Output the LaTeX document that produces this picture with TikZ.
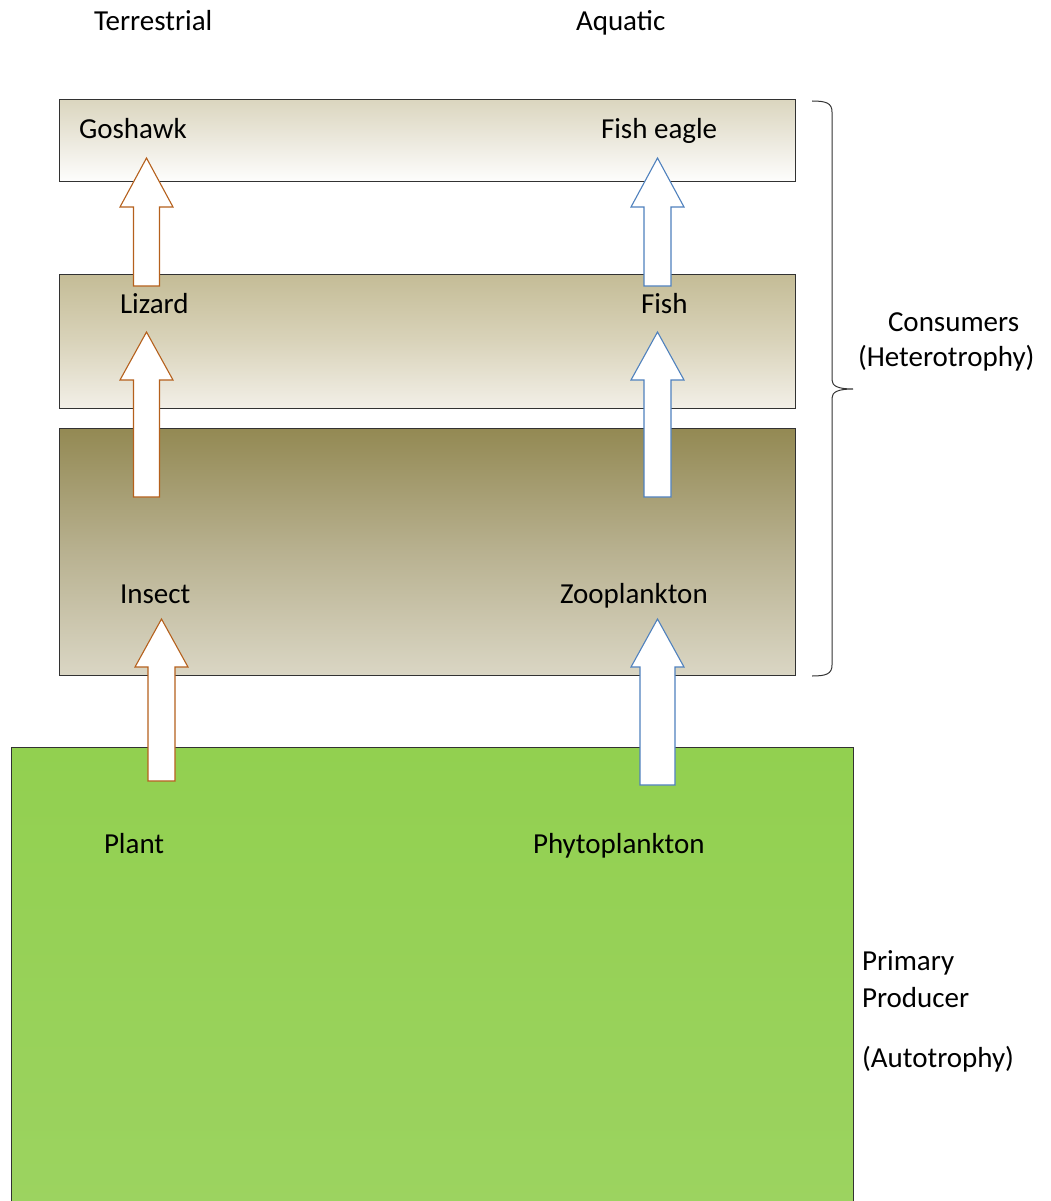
\documentclass[tikz,border=0pt]{standalone}
\usepackage{fontspec}
\setmainfont{Carlito}
\definecolor{terra}{RGB}{181,96,28}
\definecolor{aqua}{RGB}{79,129,189}
\definecolor{boxline}{RGB}{50,50,50}
\definecolor{bA}{HTML}{DBD6BF}
\definecolor{bAm}{HTML}{ECE9DE}
\definecolor{bAb}{HTML}{FEFEFD}
\definecolor{bB}{HTML}{C4BC96}
\definecolor{bBm}{HTML}{D9D3BA}
\definecolor{bBb}{HTML}{F2EFE7}
\definecolor{bC}{HTML}{938953}
\definecolor{bCm}{HTML}{B8B190}
\definecolor{bCb}{HTML}{DAD6C4}
\definecolor{gA}{HTML}{92D050}
\definecolor{gB}{HTML}{9CD360}
\newcommand\blockarrow[7]{%
  \draw[blockarr, draw=#1] (#2,#3) -- ({#2+26.5},#4) -- ({#2+#6},#4) -- ({#2+#6},#5)
     -- ({#2-#6},#5) -- ({#2-#6},#4) -- ({#2-26.5},#4) -- cycle;
  \coordinate (#7) at (#2,#3);}
\begin{document}
\begin{tikzpicture}[x=1pt,y=-1pt,
  every node/.style={font=\fontsize{29}{35}\selectfont, inner sep=0pt, outer sep=0pt},
  layerbox/.style={draw=boxline, line width=1pt, anchor=north west},
  lbl/.style={anchor=base west, text=black},
  blockarr/.style={fill=white, line width=1.1pt, line join=miter}]
\useasboundingbox (0,0) rectangle (1050,1201);
% layers
\node[layerbox, top color=bA, bottom color=bAb, middle color=bAm, minimum width=736pt, minimum height=82pt] (top) at (59,100) {};
\node[layerbox, top color=bB, bottom color=bBb, middle color=bBm, minimum width=736pt, minimum height=134pt] (mid) at (59,274) {};
\node[layerbox, top color=bC, bottom color=bCb, middle color=bCm, minimum width=736pt, minimum height=247pt] (low) at (59,428) {};
\node[layerbox, top color=gA, bottom color=gB, minimum width=842pt, minimum height=460pt] (prod) at (11,747) {};
% arrows terrestrial
\blockarrow{terra}{146.5}{158}{207}{286}{13}{ta1}
\blockarrow{terra}{146.5}{332}{380}{497}{13}{ta2}
\blockarrow{terra}{161.5}{619}{667}{781}{13.5}{ta3}
% arrows aquatic
\blockarrow{aqua}{657.5}{158}{207}{286}{13.5}{aa1}
\blockarrow{aqua}{657.5}{332}{380}{497}{13.5}{aa2}
\blockarrow{aqua}{657.5}{619}{667}{785}{17.5}{aa3}
% labels
\node[lbl] (terr) at (94,31) {Terrestrial};
\node[lbl] (aquat) at (576,31) {Aquatic};
\node[lbl] (gos) at (79,139) {Goshawk};
\node[lbl] (feag) at (601,139) {Fish eagle};
\node[lbl] (liz) at (120,313) {Lizard};
\node[lbl] (fish) at (641,313) {Fish};
\node[lbl] (ins) at (120,603) {Insect};
\node[lbl] (zoo) at (560,603) {Zooplankton};
\node[lbl] (plant) at (104,853) {Plant};
\node[lbl] (phyto) at (533,853) {Phytoplankton};
\node[lbl] (cons) at (888,331) {Consumers};
\node[lbl] (het) at (858,366) {(Heterotrophy)};
\node[lbl] (prim) at (862,970) {Primary};
\node[lbl] (prodr) at (862,1007) {Producer};
\node[lbl] (auto) at (862,1067) {(Autotrophy)};
% brace
\coordinate (btip) at (853,389);
\draw[line width=1pt, boxline] (812,101) .. controls (826,101) and (832,103) .. (832,112)
  -- (832,380) .. controls (832,386) and (838,389) .. (btip)
  .. controls (838,389) and (832,392) .. (832,398)
  -- (832,665) .. controls (832,674) and (826,676) .. (812,676);
\end{tikzpicture}
\end{document}
